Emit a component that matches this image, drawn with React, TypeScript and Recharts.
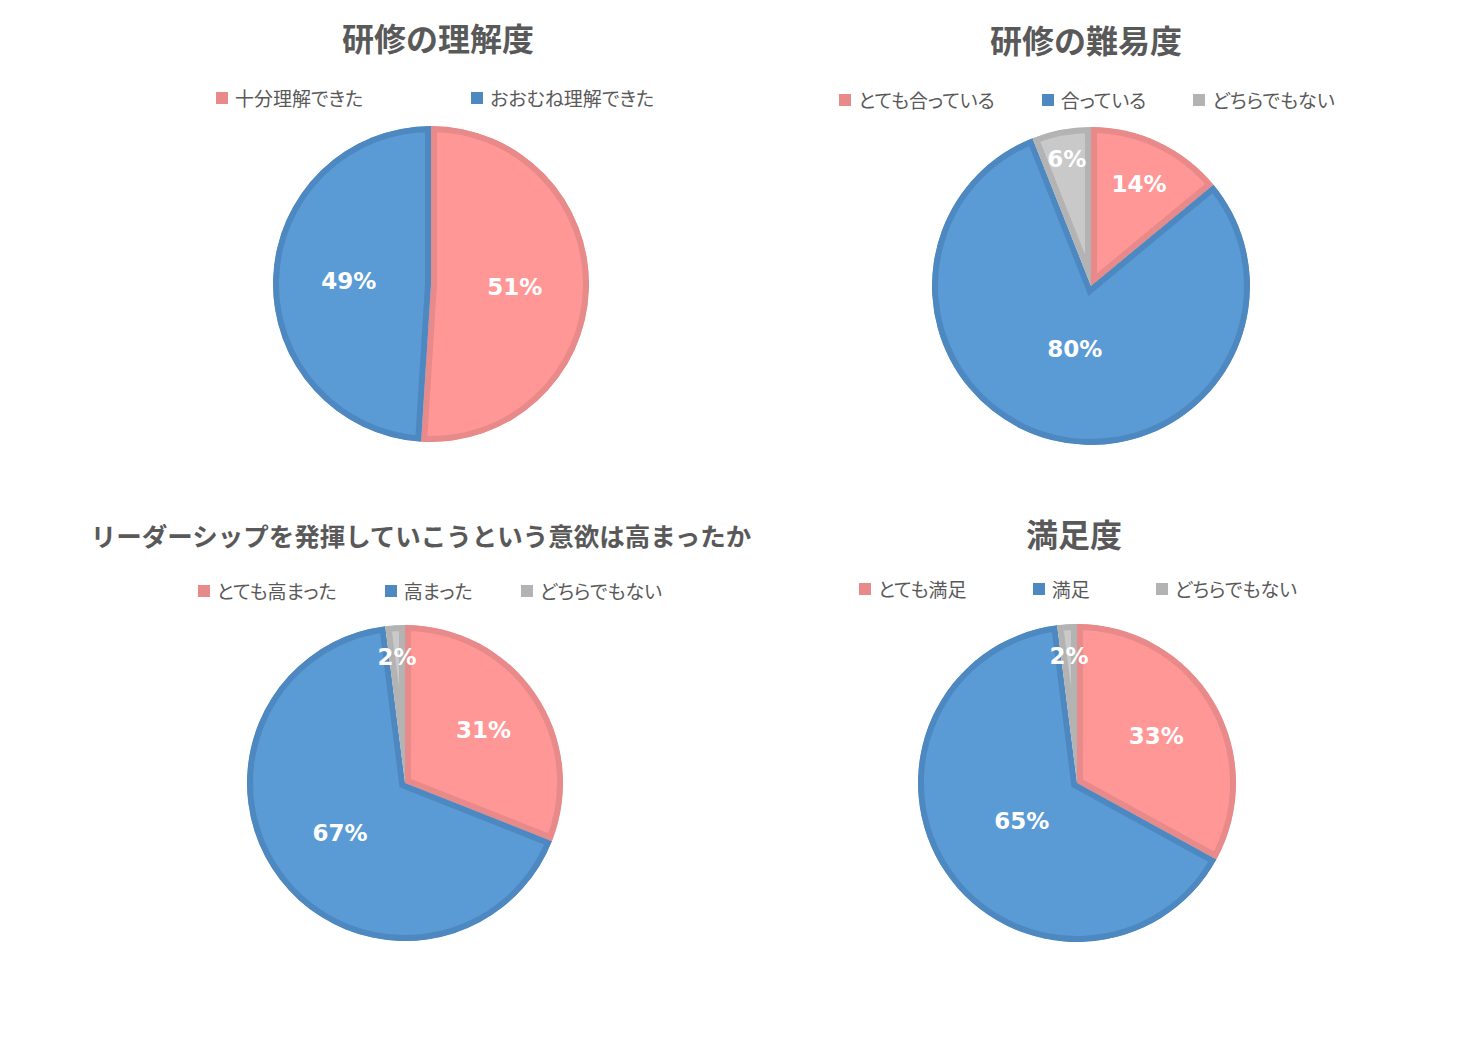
import React from "react";
import { Cell, Legend, Pie, PieChart, Sector } from "recharts";

// values (percent)
const understandingLabels = ["十分理解できた", "おおむね理解できた"];
const understandingValues = [51, 49];

const difficultyLabels = ["とても合っている", "合っている", "どちらでもない"];
const difficultyValues = [14, 80, 6];

const leadershipLabels = ["とても高まった", "高まった", "どちらでもない"];
const leadershipValues = [31, 67, 2];

const satisfactionLabels = ["とても満足", "満足", "どちらでもない"];
const satisfactionValues = [33, 65, 2];

// slice colours: fill, border (also used for the legend marker)
const sliceFills = ["#FF9797", "#5B9BD5", "#C9C9C9"];
const sliceBorders = ["#E88A8A", "#4E88C1", "#B3B3B3"];

const TEXT_COLOR = "#595959";
const JP_FONT = '"Noto Sans CJK JP", "Noto Sans", sans-serif';
const PAGE_W = 1460;
const PAGE_H = 1059;
const RADIAN = Math.PI / 180;

interface ChartLayout {
	title: string;
	titleSize: number;
	titleX: number;
	titleY: number;
	legendX: number;
	legendY: number;
	legendGap: number;
	cx: number;
	cy: number;
	radius: number;
	// where each percentage label sits, as a fraction of the radius
	labelRadius: number[];
}

/**
 * Sector whose border is drawn only on the inside, the way Excel draws pie borders
 */
const InsetSector = (props: any): React.ReactElement => {
	const { cx, cy, outerRadius, startAngle, endAngle, fill, stroke } = props;
	const id = `clip-${Math.round(cx)}-${Math.round(cy)}-${Math.round(startAngle * 10)}`;
	return (
		<g>
			<defs>
				<clipPath id={id}>
					<Sector
						cx={cx}
						cy={cy}
						innerRadius={0}
						outerRadius={outerRadius}
						startAngle={startAngle}
						endAngle={endAngle}
					/>
				</clipPath>
			</defs>
			<Sector
				cx={cx}
				cy={cy}
				innerRadius={0}
				outerRadius={outerRadius}
				startAngle={startAngle}
				endAngle={endAngle}
				fill={fill}
				stroke={stroke}
				strokeWidth={12}
				clipPath={`url(#${id})`}
			/>
		</g>
	);
};

function PieBlock({
	layout,
	labels,
	values,
}: {
	layout: ChartLayout;
	labels: string[];
	values: number[];
}): React.ReactElement {
	const data = labels.map((name, i) => ({ name, value: values[i] }));

	const renderLabel = (p: any): React.ReactElement => {
		const r = p.outerRadius * layout.labelRadius[p.index];
		const x = p.cx + r * Math.cos(-p.midAngle * RADIAN);
		const y = p.cy + r * Math.sin(-p.midAngle * RADIAN);
		return (
			<text
				x={x}
				y={y}
				fill="#FFFFFF"
				textAnchor="middle"
				dominantBaseline="central"
				fontFamily='"DejaVu Sans", sans-serif'
				fontWeight="bold"
				fontSize={23}
			>
				{`${p.value}%`}
			</text>
		);
	};

	const renderLegend = (): React.ReactElement => (
		<div
			style={{
				display: "flex",
				flexDirection: "row",
				justifyContent: "center",
				columnGap: layout.legendGap,
				fontFamily: JP_FONT,
				fontSize: 19,
				color: TEXT_COLOR,
				fontFeatureSettings: '"palt"',
				lineHeight: "24px",
				whiteSpace: "nowrap",
			}}
		>
			{labels.map((name, i) => (
				<div key={name} style={{ display: "flex", alignItems: "center" }}>
					<span
						style={{
							display: "inline-block",
							width: 12,
							height: 12,
							marginRight: 7,
							background: sliceBorders[i],
						}}
					/>
					{name}
				</div>
			))}
		</div>
	);

	return (
		<div style={{ position: "absolute", left: 0, top: 0, width: PAGE_W, height: PAGE_H }}>
			<div
				style={{
					position: "absolute",
					left: layout.titleX - 400,
					width: 800,
					top: layout.titleY - 22,
					lineHeight: "44px",
					textAlign: "center",
					fontFamily: JP_FONT,
					fontWeight: "bold",
					fontSize: layout.titleSize,
					color: TEXT_COLOR,
					whiteSpace: "nowrap",
				}}
			>
				{layout.title}
			</div>
			<PieChart
				width={PAGE_W}
				height={PAGE_H}
				margin={{ top: 0, right: 0, bottom: 0, left: 0 }}
				style={{ position: "absolute", left: 0, top: 0 }}
			>
				<Legend
					content={renderLegend}
					wrapperStyle={{
						position: "absolute",
						left: layout.legendX - 400,
						width: 800,
						top: layout.legendY - 12,
					}}
				/>
				<Pie
					data={data}
					dataKey="value"
					nameKey="name"
					cx={layout.cx}
					cy={layout.cy}
					outerRadius={layout.radius}
					startAngle={90}
					endAngle={-270}
					stroke="none"
					label={renderLabel}
					labelLine={false}
					shape={InsetSector}
					isAnimationActive={false}
				>
					{data.map((entry, i) => (
						<Cell key={entry.name} fill={sliceFills[i]} stroke={sliceBorders[i]} />
					))}
				</Pie>
			</PieChart>
		</div>
	);
}

const understandingLayout: ChartLayout = {
	title: "研修の理解度",
	titleSize: 32,
	titleX: 438,
	titleY: 37,
	legendX: 435,
	legendY: 98,
	legendGap: 108,
	cx: 431,
	cy: 284,
	radius: 158,
	labelRadius: [0.53, 0.52],
};

const difficultyLayout: ChartLayout = {
	title: "研修の難易度",
	titleSize: 32,
	titleX: 1086,
	titleY: 39,
	legendX: 1087,
	legendY: 100,
	legendGap: 47,
	cx: 1091,
	cy: 286,
	radius: 159,
	labelRadius: [0.71, 0.41, 0.81],
};

const leadershipLayout: ChartLayout = {
	title: "リーダーシップを発揮していこうという意欲は高まったか",
	titleSize: 25.5,
	titleX: 421,
	titleY: 535,
	legendX: 430,
	legendY: 591,
	legendGap: 48,
	cx: 405,
	cy: 783,
	radius: 158,
	labelRadius: [0.6, 0.52, 0.8],
};

const satisfactionLayout: ChartLayout = {
	title: "満足度",
	titleSize: 32,
	titleX: 1074,
	titleY: 533,
	legendX: 1078,
	legendY: 589,
	legendGap: 66,
	cx: 1077,
	cy: 783,
	radius: 159,
	labelRadius: [0.58, 0.42, 0.8],
};

export default function App(): React.ReactElement {
	return (
		<div
			style={{
				position: "absolute",
				left: 0,
				top: 0,
				width: PAGE_W,
				height: PAGE_H,
				background: "#FFFFFF",
				overflow: "hidden",
			}}
		>
			<PieBlock layout={understandingLayout} labels={understandingLabels} values={understandingValues} />
			<PieBlock layout={difficultyLayout} labels={difficultyLabels} values={difficultyValues} />
			<PieBlock layout={leadershipLayout} labels={leadershipLabels} values={leadershipValues} />
			<PieBlock layout={satisfactionLayout} labels={satisfactionLabels} values={satisfactionValues} />
		</div>
	);
}
